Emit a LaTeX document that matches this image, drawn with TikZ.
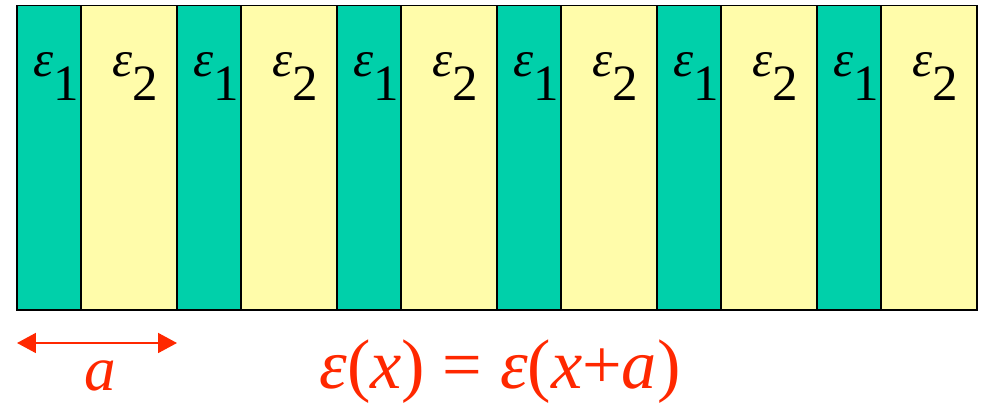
\documentclass[tikz,border=0pt]{standalone}
\usepackage{fontspec}
\setmainfont{LiberationSerif}[Extension=.ttf, UprightFont=*-Regular, ItalicFont=*-Italic]
\usetikzlibrary{arrows.meta}
\definecolor{layerA}{RGB}{0,208,170}
\definecolor{layerB}{RGB}{255,252,170}
\definecolor{period}{RGB}{255,40,0}
\newcommand{\epslab}[1]{\textit{ε}\raisebox{-0.47em}{#1}}

\begin{document}
\begin{tikzpicture}[x=0.02cm, y=-0.02cm, >={Triangle[length=0.38cm,width=0.4cm]},
  layer/.style={draw, line width=0.8pt},
  lab/.style={font=\fontsize{29}{30}\selectfont, inner sep=0pt, anchor=base west},
  law/.style={font=\fontsize{40}{41}\selectfont, inner sep=0pt, anchor=base, text=period}]
  \useasboundingbox (0,0) rectangle (985,405);
  % six periods of the two layers
  \foreach \i in {0,...,5} {
    \pgfmathsetmacro{\xa}{17+160*\i}
    \draw[layer, fill=layerA] (\xa,5.5) rectangle ++(64,304.5);
    \draw[layer, fill=layerB] (\xa+64,5.5) rectangle ++(96,304.5);
    \node[lab] (e1-\i) at (\xa+16,77) {\epslab{1}};
    \node[lab] (e2-\i) at (\xa+95,77) {\epslab{2}};
  }
  % period
  \coordinate (pl) at (17,343);
  \coordinate (pr) at (177,343);
  \draw[<->, period, line width=1.1pt] (pl) -- (pr);
  \node[law, font=\fontsize{36}{37}\selectfont] (alab) at (100,391) {\textit{a}};
  \node[law] (eq) at (500,389) {\textit{ε}(\textit{x}) = \textit{ε}(\textit{x}+\textit{a})};
\end{tikzpicture}
\end{document}
